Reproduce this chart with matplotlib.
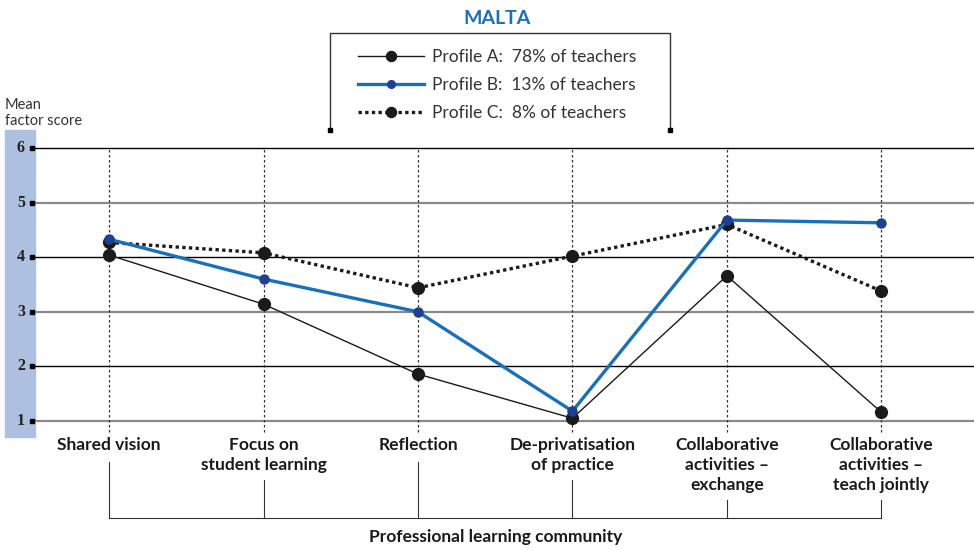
import numpy as np
import matplotlib
matplotlib.use('Agg')
from matplotlib import pyplot as plt
from matplotlib.patches import Rectangle

categories = ['Shared vision', 'Focus on\nstudent learning', 'Reflection',
              'De-privatisation\nof practice', 'Collaborative\nactivities \u2013\nexchange',
              'Collaborative\nactivities \u2013\nteach jointly']
profile_a = [4.04, 3.14, 1.86, 1.05, 3.66, 1.16]
profile_b = [4.33, 3.60, 3.00, 1.18, 4.68, 4.63]
profile_c = [4.27, 4.08, 3.44, 4.02, 4.60, 3.38]
labels = ['Profile A:  78% of teachers', 'Profile B:  13% of teachers', 'Profile C:  8% of teachers']
yticks = [1, 2, 3, 4, 5, 6]

plt.rcParams['font.family'] = 'Lato'
blue = '#1a70b8'

fig = plt.figure(figsize=(9.74, 5.5), dpi=100)
W, H = 974, 550

# pixel overlay for decorations
ov = fig.add_axes([0, 0, 1, 1])
ov.set_xlim(0, W)
ov.set_ylim(H, 0)
ov.axis('off')
ov.add_patch(Rectangle((5, 130), 30, 307, color='#adc0e0', zorder=0))

ax = fig.add_axes([32 / W, (H - 437) / H, 942 / W, 307 / H])
ax.patch.set_alpha(0)
x = np.arange(len(categories))
ax.set_xlim(-0.499, 5.60)
ax.set_ylim(0.707, 6.33)
for s in ax.spines.values():
    s.set_visible(False)
ax.set_xticks([])
ax.set_yticks([])

for v in yticks:
    ax.axhline(v, color='black' if v % 2 == 0 else '#8a8a8a',
               lw=1.0 if v % 2 == 0 else 1.6, zorder=1)
    ax.plot([-0.499], [v], marker='s', ms=3.5, color='black', clip_on=False, zorder=3)
    ax.text(-0.545, v, str(v), ha='right', va='center', fontsize=11.5,
            fontweight='bold', family='Liberation Serif', color='#222222')

for xi in x:
    ax.plot([xi, xi], [0.8, 6], color='#333333', lw=0.9, ls=(0, (2, 2)), zorder=1, clip_on=False)

la, = ax.plot(x, profile_a, color='#1a1a1a', lw=1.0, marker='o', ms=8.5,
              mfc='#1a1a1a', mec='#1a1a1a', zorder=4, label=labels[0])
lb, = ax.plot(x, profile_b, color=blue, lw=2.4, marker='o', ms=6.5,
              mfc='#1f3f8f', mec='#1f3f8f', zorder=5, label=labels[1])
lc, = ax.plot(x, profile_c, color='#1a1a1a', lw=2.4, ls=(0, (1, 1)), marker='o', ms=8.5,
              mfc='#1a1a1a', mec='#1a1a1a', zorder=4, label=labels[2])

for xi, name in zip(x, categories):
    ax.text(xi, 0.707, name, ha='center', va='top', fontsize=12.5, fontweight='bold',
            linespacing=1.32, color='#1a1a1a', clip_on=False)

# bracket beneath the category labels
starts = [0.25, -0.08, 0.25, -0.08, -0.45, -0.45]
for xi, s0 in zip(x, starts):
    ax.plot([xi, xi], [s0, -0.777], color='#333333', lw=0.8, clip_on=False)
ax.plot([0, 5], [-0.777, -0.777], color='#333333', lw=0.8, clip_on=False)
ax.text(2.5, -1.13, 'Professional learning community', ha='center', va='center',
        fontsize=12.5, fontweight='bold', color='#1a1a1a', clip_on=False)

# title, axis caption, legend box
ov.text(497, 18, 'MALTA', ha='center', va='center', fontsize=14, fontweight='bold', color=blue)
ov.text(5, 113, 'Mean\nfactor score', ha='left', va='center', fontsize=10.5,
        linespacing=1.2, color='#333333')
ov.plot([330, 330, 670, 670], [130, 33, 33, 130], color='#333333', lw=1.0)
ov.plot([330, 670], [130, 130], ls='none', marker='s', ms=3.5, color='black')

leg = fig.legend(handles=[la, lb, lc], loc='center', bbox_to_anchor=(497 / W, 1 - 85 / H),
                 frameon=False, fontsize=12.5, handlelength=3.8, handletextpad=0.5,
                 labelspacing=0.68, borderpad=0, markerscale=0.85)
for t in leg.get_texts():
    t.set_color('#333333')

fig.savefig('out.png', dpi=100)
